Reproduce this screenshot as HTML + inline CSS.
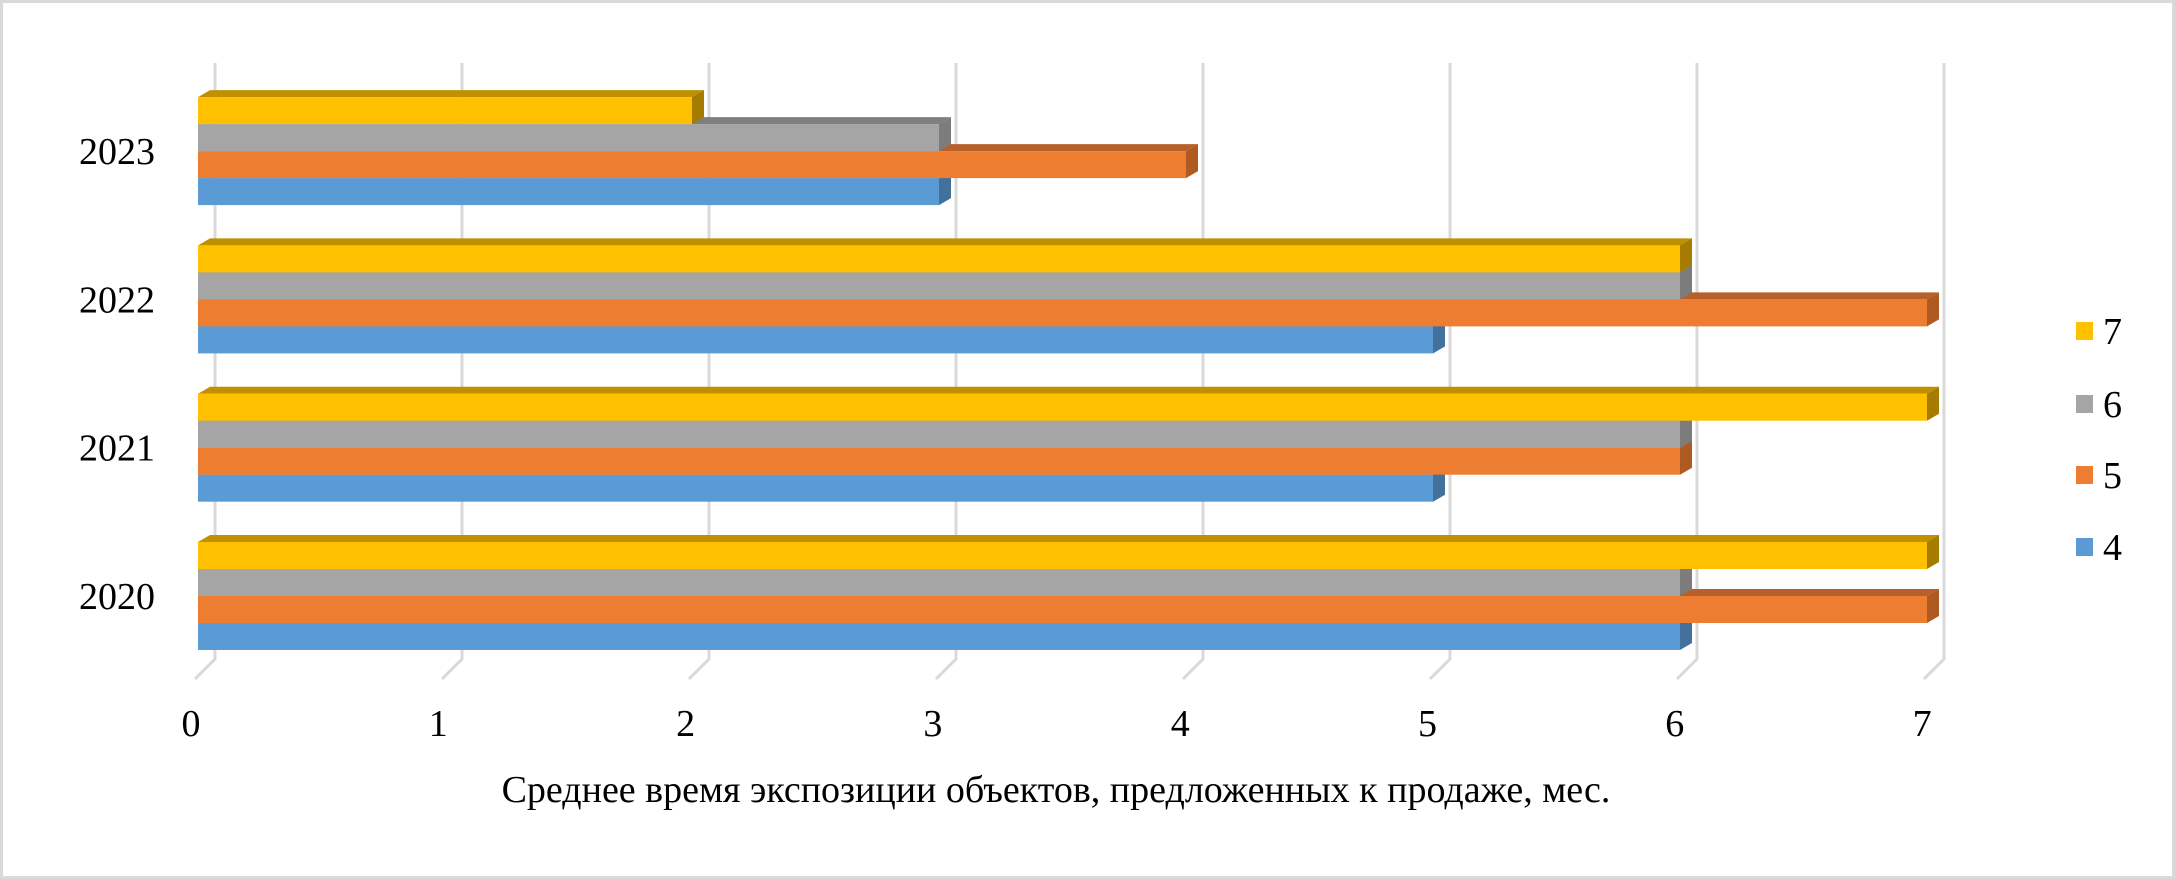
<!DOCTYPE html>
<html><head><meta charset="utf-8"><style>
html,body{margin:0;padding:0;background:#fff}
svg{display:block}
text{font-family:"Liberation Serif",serif;fill:#000}
</style></head><body>
<svg id="chart" width="2175" height="879" viewBox="0 0 2175 879" xmlns="http://www.w3.org/2000/svg">
<rect x="1.5" y="1.5" width="2172" height="876" fill="#fff" stroke="#d9d9d9" stroke-width="3"/>
<g id="grid"></g>
<g id="bars"></g>
<g id="ylabels"></g>
<g id="xlabels"></g>
<text x="1056" y="802" font-size="38" text-anchor="middle">Среднее время экспозиции объектов, предложенных к продаже, мес.</text>
<g id="legend"></g>
</svg>
<script>
const categories = ["2020","2021","2022","2023"];
const seriesNames = ["4","5","6","7"];
const s4 = [6,5,5,3];
const s5 = [7,6,7,4];
const s6 = [6,6,6,3];
const s7 = [7,7,6,2];
const xTicks = [0,1,2,3,4,5,6,7];

const series = [s4,s5,s6,s7];
const front = ["#5B9BD5","#ED7D31","#A5A5A5","#FFC000"];
const top_ = ["#4A80B0","#B8602A","#7F7F7F","#BF9000"];
const side = ["#41719C","#AE5A21","#7C7C7C","#A67C00"];
const NS="http://www.w3.org/2000/svg";
const x0=198, unit=247, gx0=215, dx=12, dy=7, bh=27;
const xs=v=>x0+v*unit;
const gx=v=>gx0+v*unit;
const groupTop=i=>542-i*148.3; // top of yellow bar of group i
function mk(tag,attrs,parent){const e=document.createElementNS(NS,tag);for(const k in attrs)e.setAttribute(k,attrs[k]);parent.appendChild(e);return e;}
const grid=document.getElementById('grid');
xTicks.forEach(t=>{
  const l=mk('path',{d:`M${gx(t)} 63 L${gx(t)} 659 L${gx(t)-20} 679`,stroke:'#d9d9d9','stroke-width':3,fill:'none'},grid);
  
  
});
const bars=document.getElementById('bars');
categories.forEach((c,i)=>{
  const gt=groupTop(i);
  for(let s=0;s<4;s++){
    const y0=gt+(3-s)*bh, y1=y0+bh, xe=xs(series[s][i]);
    const g=mk('g',{},bars);
    
    
    mk('polygon',{points:`${x0},${y0} ${x0+dx},${y0-dy} ${xe+dx},${y0-dy} ${xe},${y0}`,fill:top_[s]},g);
    mk('polygon',{points:`${xe},${y0} ${xe+dx},${y0-dy} ${xe+dx},${y1-dy} ${xe},${y1}`,fill:side[s]},g);
    mk('rect',{x:x0,y:y0,width:xe-x0,height:bh,fill:front[s]},g);
  }
  const t=mk('text',{x:155,y:gt+2*bh+13,'font-size':38,'text-anchor':'end'},document.getElementById('ylabels'));
  t.textContent=c;
  
  
});
xTicks.forEach(t=>{
  const e=mk('text',{x:191+t*247.3,y:736,'font-size':38,'text-anchor':'middle'},document.getElementById('xlabels'));
  e.textContent=String(t);
  
  
});
const leg=document.getElementById('legend');
const ly=[547,475,404,331];
seriesNames.forEach((n,s)=>{
  const g=mk('g',{},leg);
  
  
  mk('rect',{x:2076,y:ly[s]-9,width:17,height:18,fill:front[s]},g);
  const t=mk('text',{x:2103,y:ly[s]+13,'font-size':38},g);
  t.textContent=n;
});
</script>
</body></html>
